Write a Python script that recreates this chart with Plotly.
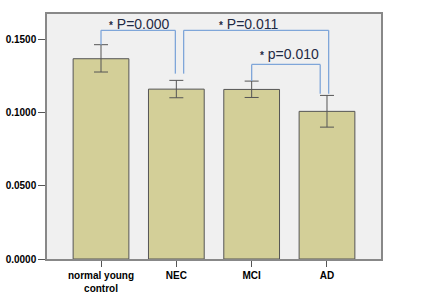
import plotly.graph_objects as go

categories = ["normal young<br>control", "NEC", "MCI", "AD"]
means = [0.1370, 0.1162, 0.1160, 0.1010]
err_plus = [0.0096, 0.0060, 0.0057, 0.0109]
err_minus = [0.0091, 0.0059, 0.0055, 0.0108]
y_ticks = [0.0, 0.05, 0.10, 0.15]
y_tick_labels = ["0.0000", "0.0500", "0.1000", "0.1500"]

# significance brackets: (left idx, left offset, left foot, right idx, right offset, right foot, level)
brackets = [
    (0, 0.0, 0.1466, 1, -0.013, 0.1268, 0.1564),
    (1, 0.097, 0.1268, 3, 0.022, 0.1131, 0.1564),
    (2, 0.0, 0.1217, 3, -0.09, 0.1131, 0.1331),
]
labels = [
    ("P=0.000", 0.51, 0.1610),
    ("P=0.011", 1.97, 0.1610),
    ("p=0.010", 2.50, 0.1404),
]

fig = go.Figure()
xs = list(range(len(categories)))
fig.add_trace(go.Bar(
    x=xs, y=means, width=0.74,
    marker=dict(color="#D3CF98", line=dict(color="#555555", width=1)),
    error_y=dict(type="data", symmetric=False, array=err_plus, arrayminus=err_minus,
                 color="#555555", thickness=1, width=7),
))

shapes = []
for li, lo, lf, ri, ro, rf, lvl in brackets:
    xl, xr = xs[li] + lo, xs[ri] + ro
    for (x0, y0, x1, y1) in [(xl, lf, xl, lvl), (xl, lvl, xr, lvl), (xr, lvl, xr, rf)]:
        shapes.append(dict(type="line", xref="x", yref="y", x0=x0, y0=y0, x1=x1, y1=y1,
                           line=dict(color="#7FA6D9", width=1.3)))

annotations = []
for txt, ax, ay in labels:
    annotations.append(dict(
        x=ax, y=ay, xref="x", yref="y", showarrow=False,
        text="<span style='font-size:10px'><b>*</b></span> " + txt,
        font=dict(family="Liberation Sans, Arial", size=14, color="#1F2A44"),
        xanchor="center", yanchor="middle"))

fig.update_layout(
    width=422, height=296,
    margin=dict(l=47, r=41, t=14, b=37),
    paper_bgcolor="white", plot_bgcolor="#F0F0F0",
    showlegend=False, shapes=shapes, annotations=annotations,
    font=dict(family="Liberation Sans, Arial", color="#000000"),
)
fig.update_xaxes(
    range=[-0.717, 3.717], tickmode="array", tickvals=xs, ticktext=["<b>%s</b>" % c for c in categories],
    ticks="outside", ticklen=6, tickcolor="#555555", tickfont=dict(size=10), automargin=False,
    showline=True, linecolor="#888888", linewidth=1.5, mirror=True, showgrid=False, zeroline=False,
)
fig.update_yaxes(
    range=[0, 0.1676], tickmode="array", tickvals=y_ticks, ticktext=["<b>%s</b>" % t for t in y_tick_labels],
    ticks="outside", ticklen=7, tickcolor="#555555", tickfont=dict(size=10), automargin=False,
    showline=True, linecolor="#888888", linewidth=1.5, mirror=True, showgrid=False, zeroline=False,
)

fig.write_html("out.html", config={"displayModeBar": False},
               post_script="document.body.style.margin='0';document.body.style.overflow='hidden';")
